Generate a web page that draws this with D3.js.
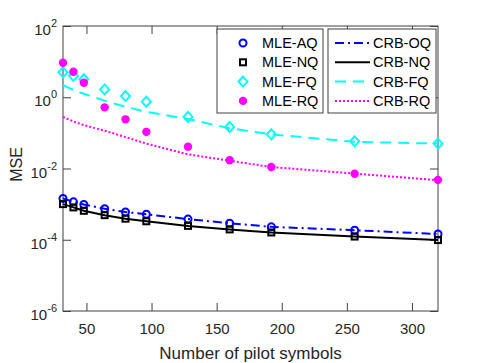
<!DOCTYPE html>
<html>
<head>
<meta charset="utf-8">
<script src="https://cdn.jsdelivr.net/npm/d3@7"></script>
<style>
  body { margin: 0; background: #fff; }
  svg { display: block; font-family: "Liberation Sans", Arial, sans-serif; }
</style>
</head>
<body>
<svg id="chart" width="485" height="363"></svg>
<script>
// Pilot lengths on the x axis.
const pilots = [32, 40, 48, 64, 80, 96, 128, 160, 192, 256, 320];

// MSE values.
const mleAQ = [1.45e-3, 1.16e-3, 9.8e-4, 7.4e-4, 6.0e-4, 5.2e-4, 3.8e-4, 2.9e-4, 2.3e-4, 1.85e-4, 1.45e-4];
const mleNQ = [1.0e-3, 8.1e-4, 6.5e-4, 4.9e-4, 3.9e-4, 3.3e-4, 2.45e-4, 1.95e-4, 1.6e-4, 1.23e-4, 9.8e-5];
const mleFQ = [5.0, 4.0, 3.2, 1.66, 1.08, 0.75, 0.28, 0.147, 0.091, 0.058, 0.050];
const mleRQ = [9.3, 5.2, 2.56, 0.52, 0.24, 0.107, 0.041, 0.017, 0.011, 0.0071, 0.0048];

const crbOQ = [1.45e-3, 1.16e-3, 9.8e-4, 7.4e-4, 6.0e-4, 5.2e-4, 3.8e-4, 2.9e-4, 2.3e-4, 1.85e-4, 1.45e-4];
const crbNQ = [1.0e-3, 8.1e-4, 6.5e-4, 4.9e-4, 3.9e-4, 3.3e-4, 2.45e-4, 1.95e-4, 1.6e-4, 1.23e-4, 9.8e-5];
const crbFQ = [2.2, 1.6, 1.25, 0.80, 0.54, 0.39, 0.245, 0.135, 0.091, 0.056, 0.050];
const crbRQ = [0.28, 0.21, 0.165, 0.115, 0.076, 0.05, 0.025, 0.0165, 0.011, 0.0072, 0.0047];

const xTicks = [50, 100, 150, 200, 250, 300];
const yTickExps = [-6, -4, -2, 0, 2];

const mleNames = ["MLE-AQ", "MLE-NQ", "MLE-FQ", "MLE-RQ"];
const crbNames = ["CRB-OQ", "CRB-NQ", "CRB-FQ", "CRB-RQ"];

const width = 485, height = 363;
const margin = {top: 26, right: 47, bottom: 52, left: 63};
const axisColor = "#404040";
const textColor = "#262626";

const svg = d3.select("#chart");

const x = d3.scaleLinear()
  .domain([32, 320])
  .range([margin.left, width - margin.right]);
const y = d3.scaleLog()
  .domain([1e-6, 1e2])
  .range([height - margin.bottom, margin.top]);

// Plot box.
svg.append("rect")
  .attr("x", x.range()[0])
  .attr("y", y.range()[1])
  .attr("width", x.range()[1] - x.range()[0])
  .attr("height", y.range()[0] - y.range()[1])
  .attr("fill", "white")
  .attr("stroke", axisColor)
  .attr("stroke-width", 1);

// Axes, ticks point inward.
const tickLen = 8;
svg.append("g")
  .attr("transform", `translate(0,${y.range()[0]})`)
  .call(d3.axisBottom(x).tickValues(xTicks).tickSize(-tickLen).tickPadding(12))
  .call(g => g.select(".domain").remove())
  .call(g => g.selectAll(".tick line").attr("stroke", axisColor))
  .call(g => g.selectAll(".tick text")
    .attr("fill", textColor).attr("font-size", 15).attr("font-family", "Liberation Sans, Arial, sans-serif"));
svg.append("g")
  .attr("transform", `translate(0,${y.range()[1]})`)
  .call(d3.axisTop(x).tickValues(xTicks).tickSize(-tickLen).tickFormat(""))
  .call(g => g.select(".domain").remove())
  .call(g => g.selectAll(".tick line").attr("stroke", axisColor));

const yVals = yTickExps.map(e => Math.pow(10, e));
svg.append("g")
  .attr("transform", `translate(${x.range()[0]},0)`)
  .call(d3.axisLeft(y).tickValues(yVals).tickSize(-tickLen).tickFormat(""))
  .call(g => g.select(".domain").remove())
  .call(g => g.selectAll(".tick line").attr("stroke", axisColor));
svg.append("g")
  .attr("transform", `translate(${x.range()[1]},0)`)
  .call(d3.axisRight(y).tickValues(yVals).tickSize(-tickLen).tickFormat(""))
  .call(g => g.select(".domain").remove())
  .call(g => g.selectAll(".tick line").attr("stroke", axisColor));

// y tick labels as 10^e
yTickExps.forEach(e => {
  const t = svg.append("text")
    .attr("x", x.range()[0] - 6)
    .attr("y", y(Math.pow(10, e)) + 9)
    .attr("text-anchor", "end")
    .attr("fill", textColor)
    .attr("font-size", 15);
  t.append("tspan").text("10");
  t.append("tspan").attr("dy", -8).attr("font-size", 11).text(String(e));
});

// Axis labels.
svg.append("text")
  .attr("x", (x.range()[0] + x.range()[1]) / 2)
  .attr("y", height - 4)
  .attr("text-anchor", "middle")
  .attr("fill", textColor)
  .attr("font-size", 17)
  .text("Number of pilot symbols");
svg.append("text")
  .attr("transform", `translate(21.5,${(y.range()[0] + y.range()[1]) / 2 - 4}) rotate(-90)`)
  .attr("text-anchor", "middle")
  .attr("fill", textColor)
  .attr("font-size", 16)
  .text("MSE");

// Lines.
const line = d3.line().x((d, i) => x(pilots[i])).y(d => y(d));
const lineStyles = [
  {data: crbOQ, color: "#0000ff", dash: "9,4,2,4"},
  {data: crbNQ, color: "#000000", dash: null},
  {data: crbFQ, color: "#00ffff", dash: "11,7"},
  {data: crbRQ, color: "#ff00ff", dash: "2,2"},
];
const plot = svg.append("g");
lineStyles.forEach(s => {
  plot.append("path")
    .datum(s.data)
    .attr("fill", "none")
    .attr("stroke", s.color)
    .attr("stroke-width", 2)
    .attr("stroke-dasharray", s.dash)
    .attr("d", line);
});

// Markers.
function drawMarker(g, kind, cx, cy) {
  if (kind === "circle") {
    g.append("circle").attr("cx", cx).attr("cy", cy).attr("r", 3.5)
      .attr("fill", "none").attr("stroke", "#0000ff").attr("stroke-width", 2);
  } else if (kind === "square") {
    g.append("rect").attr("x", cx - 3).attr("y", cy - 3).attr("width", 6).attr("height", 6)
      .attr("fill", "none").attr("stroke", "#000000").attr("stroke-width", 2);
  } else if (kind === "diamond") {
    g.append("path").attr("d", `M${cx},${cy - 5}L${cx + 4.5},${cy}L${cx},${cy + 5}L${cx - 4.5},${cy}Z`)
      .attr("fill", "none").attr("stroke", "#00ffff").attr("stroke-width", 2);
  } else {
    g.append("circle").attr("cx", cx).attr("cy", cy).attr("r", 4.2)
      .attr("fill", "#ff00ff");
  }
}
const markerSets = [
  {data: mleAQ, kind: "circle"},
  {data: mleNQ, kind: "square"},
  {data: mleFQ, kind: "diamond"},
  {data: mleRQ, kind: "dot"},
];
markerSets.forEach(s => {
  s.data.forEach((v, i) => drawMarker(plot, s.kind, x(pilots[i]), y(v)));
});

// Legend: two boxes.
const legTop = 29, legRowH = 19.3, legFirst = 43;
const box1 = {x0: 217, x1: 323}, box2 = {x0: 328, x1: 436};
[box1, box2].forEach(b => {
  svg.append("rect")
    .attr("x", b.x0).attr("y", legTop)
    .attr("width", b.x1 - b.x0).attr("height", 84)
    .attr("fill", "white").attr("stroke", axisColor).attr("stroke-width", 1);
});
mleNames.forEach((name, i) => {
  const cy = legFirst + i * legRowH;
  drawMarker(svg, markerSets[i].kind, 243, cy);
  svg.append("text").attr("x", 262).attr("y", cy + 5)
    .attr("fill", "black").attr("font-size", 14.5).text(name);
});
crbNames.forEach((name, i) => {
  const cy = legFirst + i * legRowH;
  svg.append("line")
    .attr("x1", 335).attr("x2", 370).attr("y1", cy).attr("y2", cy)
    .attr("stroke", lineStyles[i].color).attr("stroke-width", 2)
    .attr("stroke-dasharray", lineStyles[i].dash);
  svg.append("text").attr("x", 373).attr("y", cy + 5)
    .attr("fill", "black").attr("font-size", 14.5).text(name);
});
</script>
</body>
</html>
